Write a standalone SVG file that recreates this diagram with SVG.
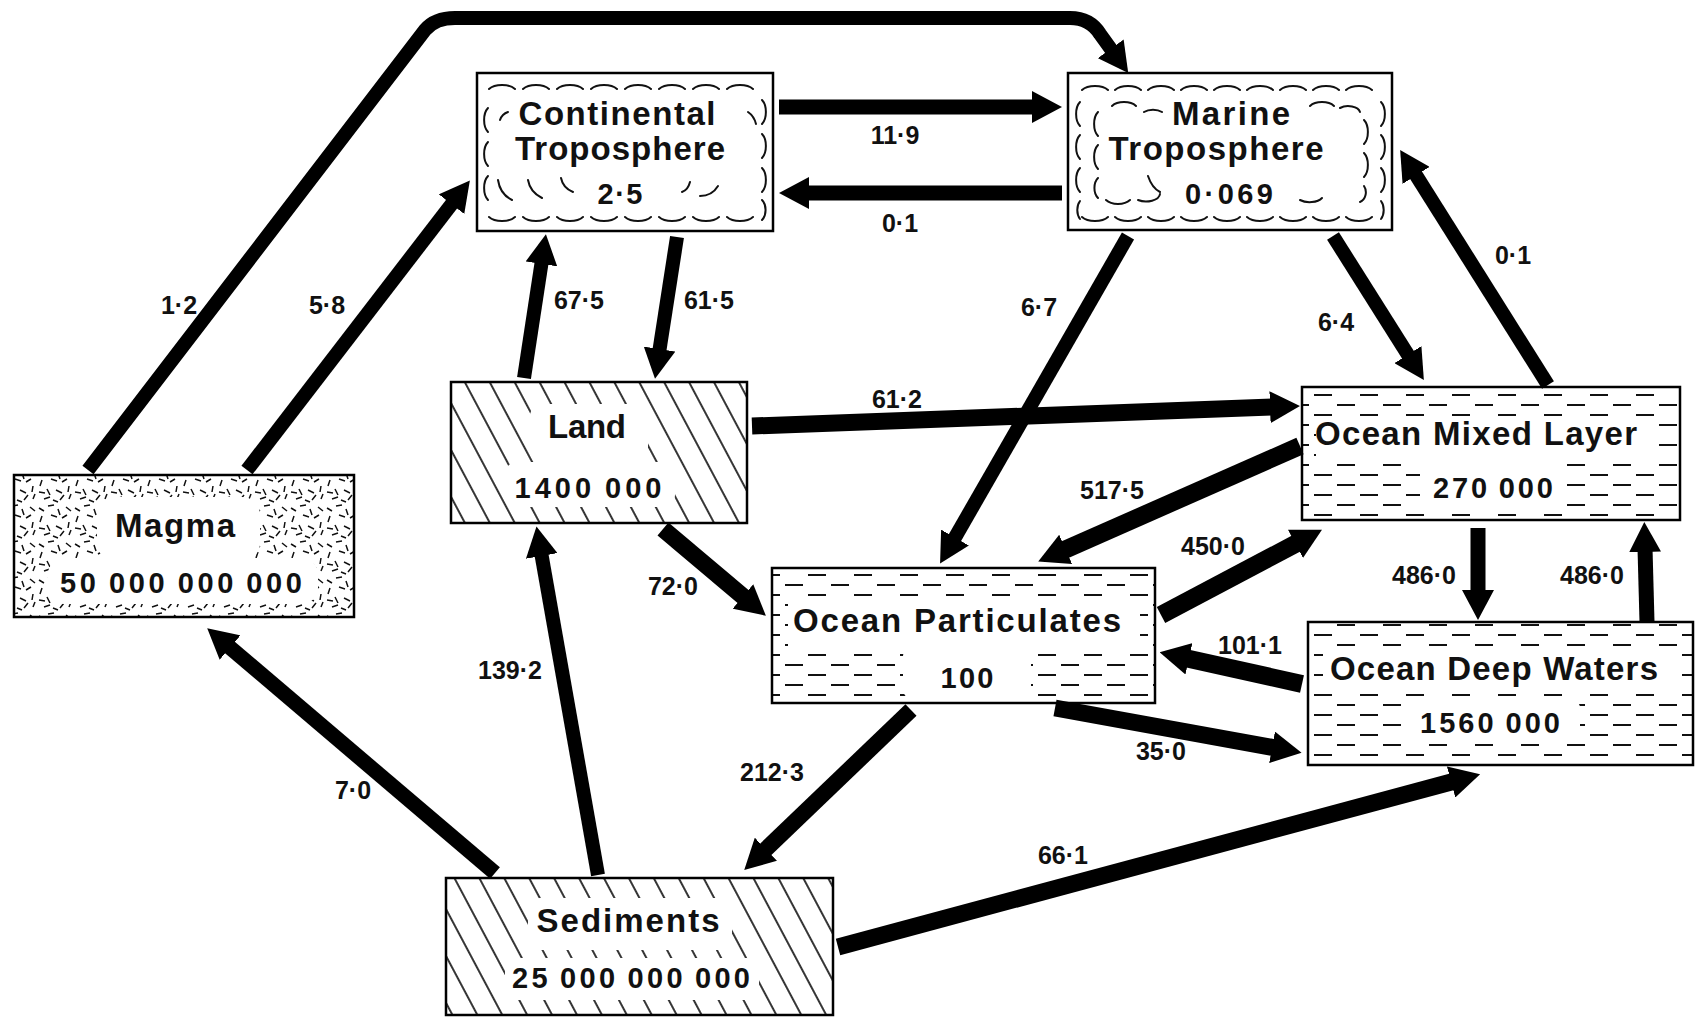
<svg xmlns="http://www.w3.org/2000/svg" width="1701" height="1017" viewBox="0 0 1701 1017">
<style>
.box{fill:#fff;stroke:#000;stroke-width:2.5}
.edge{stroke:#000;stroke-width:2.5;fill:none}
.t{font-family:"Liberation Sans",Arial,sans-serif;font-weight:bold;fill:#111;text-anchor:middle}
.ti{font-size:33px}
.nu{font-size:29px}
.lb{font-family:"Liberation Sans",Arial,sans-serif;font-weight:bold;font-size:25px;fill:#111;text-anchor:middle}
.cl{fill:none;stroke:#111;stroke-width:2;stroke-linecap:round}
.ar{fill:none;stroke:#000;stroke-linecap:butt;marker-end:url(#ah)}
.wh{fill:#fff}
</style>
<defs>
<marker id="ah" markerUnits="userSpaceOnUse" markerWidth="30" markerHeight="32" viewBox="0 0 30 32" refX="4" refY="16" orient="auto"><path d="M0,0 L30,16 L0,32 z" fill="#000"/></marker>
<pattern id="hatch" width="22" height="22" patternUnits="userSpaceOnUse" patternTransform="rotate(-28)"><line x1="11" y1="-1" x2="11" y2="23" stroke="#111" stroke-width="1.7"/></pattern>
<pattern id="dash" width="46" height="20" patternUnits="userSpaceOnUse"><path d="M3,5 h18 M26,15 h18" stroke="#111" stroke-width="2"/></pattern>
<pattern id="stip" width="36" height="36" patternUnits="userSpaceOnUse"><path d="M3,4 l5,3 M12,2 l6,-1 M22,5 l2,6 M30,3 l5,4 M6,12 l-2,6 M15,11 l6,2 M26,14 l5,-3 M33,18 l-1,6 M3,24 l6,1 M11,21 l3,6 M20,22 l6,3 M28,27 l-4,5 M8,31 l6,-2 M17,32 l5,2 M33,31 l2,-5" stroke="#111" stroke-width="1.5" fill="none"/></pattern>
</defs>
<rect width="1701" height="1017" fill="#fff"/>

<g id="magma">
<rect x="14" y="475" width="340" height="142" fill="url(#stip)"/>
<rect class="wh" x="97" y="497" width="163" height="64" rx="18"/>
<rect class="wh" x="48" y="558" width="270" height="46" rx="16"/>
<rect class="edge" x="14" y="475" width="340" height="142"/>
<text class="t ti" x="175" y="537" textLength="120" lengthAdjust="spacing">Magma</text>
<text class="t nu" x="181" y="593" textLength="242" lengthAdjust="spacing">50&#8201;000&#8201;000&#8201;000</text>
</g>

<g id="continental-troposphere">
<rect class="box" x="477" y="73" width="296" height="158"/>
<path class="cl" d="M489,89 a15,8 0 0 1 26,0 m8,0 a15,8 0 0 1 26,0 m8,0 a15,8 0 0 1 26,0 m8,0 a15,8 0 0 1 26,0 m8,0 a15,8 0 0 1 26,0 m8,0 a15,8 0 0 1 26,0 m8,0 a15,8 0 0 1 26,0 m8,0 a15,8 0 0 1 26,0"/>
<path class="cl" d="M489,217 a15,8 0 0 0 26,0 m8,0 a15,8 0 0 0 26,0 m8,0 a15,8 0 0 0 26,0 m8,0 a15,8 0 0 0 26,0 m8,0 a15,8 0 0 0 26,0 m8,0 a15,8 0 0 0 26,0 m8,0 a15,8 0 0 0 26,0 m8,0 a15,8 0 0 0 26,0"/>
<path class="cl" d="M488,108 a8,14 0 0 0 0,24 m0,10 a8,14 0 0 0 0,24 m0,10 a8,14 0 0 0 0,24"/>
<path class="cl" d="M762,100 a8,14 0 0 1 0,24 m0,10 a8,14 0 0 1 0,24 m0,10 a8,14 0 0 1 0,24 m0,8 a8,12 0 0 1 0,20"/>
<path class="cl" d="M498,180 q2,14 14,20 M528,180 q2,12 14,18 M561,178 q2,10 12,14 M690,182 q-2,8 -8,10 M718,186 q-6,10 -18,10 M748,112 q6,4 8,12 M508,112 q-6,2 -8,8"/>
<text class="t ti" x="617" y="125" textLength="197" lengthAdjust="spacing">Continental</text>
<text class="t ti" x="620" y="160" textLength="210" lengthAdjust="spacing">Troposphere</text>
<text class="t nu" x="620" y="204" textLength="45" lengthAdjust="spacing">2·5</text>
</g>

<g id="marine-troposphere">
<rect class="box" x="1068" y="73" width="324" height="157"/>
<path class="cl" d="M1082,90 a15,8 0 0 1 26,0 m7,0 a15,8 0 0 1 26,0 m7,0 a15,8 0 0 1 26,0 m7,0 a15,8 0 0 1 26,0 m7,0 a15,8 0 0 1 26,0 m7,0 a15,8 0 0 1 26,0 m7,0 a15,8 0 0 1 26,0 m7,0 a15,8 0 0 1 26,0 m7,0 a15,8 0 0 1 26,0"/>
<path class="cl" d="M1082,217 a15,8 0 0 0 26,0 m7,0 a15,8 0 0 0 26,0 m7,0 a15,8 0 0 0 26,0 m7,0 a15,8 0 0 0 26,0 m7,0 a15,8 0 0 0 26,0 m7,0 a15,8 0 0 0 26,0 m7,0 a15,8 0 0 0 26,0 m7,0 a15,8 0 0 0 26,0 m7,0 a15,8 0 0 0 26,0"/>
<path class="cl" d="M1080,102 a8,14 0 0 0 0,24 m0,9 a8,14 0 0 0 0,24 m0,9 a8,14 0 0 0 0,24 m0,9 a8,12 0 0 0 0,18"/>
<path class="cl" d="M1381,102 a8,14 0 0 1 0,24 m0,9 a8,14 0 0 1 0,24 m0,9 a8,14 0 0 1 0,24 m0,9 a8,12 0 0 1 0,18"/>
<path class="cl" d="M1098,112 a8,14 0 0 0 0,24 m0,9 a8,14 0 0 0 0,24 m0,9 a8,12 0 0 0 0,20 M1112,106 a14,8 0 0 1 24,0 M1144,112 a12,7 0 0 1 18,0 M1310,106 a14,8 0 0 1 24,0 M1340,108 a12,7 0 0 1 20,4 M1364,120 a8,14 0 0 1 0,24 m0,9 a8,14 0 0 1 0,24 m0,9 a8,10 0 0 1 -4,16 M1106,200 a14,8 0 0 0 24,0 m8,0 a14,8 0 0 0 22,-6 M1300,200 a14,8 0 0 0 22,-2 M1148,176 q4,12 12,16"/>
<text class="t ti" x="1231" y="125" textLength="118" lengthAdjust="spacing">Marine</text>
<text class="t ti" x="1216" y="160" textLength="215" lengthAdjust="spacing">Troposphere</text>
<text class="t nu" x="1229" y="204" textLength="88" lengthAdjust="spacing">0·069</text>
</g>

<g id="land">
<rect x="451" y="382" width="296" height="141" fill="url(#hatch)"/>
<rect class="wh" x="530" y="404" width="118" height="58" rx="12"/>
<rect class="wh" x="505" y="462" width="170" height="45" rx="12"/>
<rect class="edge" x="451" y="382" width="296" height="141"/>
<text class="t ti" x="587" y="438" textLength="78" lengthAdjust="spacing">Land</text>
<text class="t nu" x="588" y="498" textLength="147" lengthAdjust="spacing">1400&#8201;000</text>
</g>

<g id="sediments">
<rect x="446" y="878" width="387" height="137" fill="url(#hatch)"/>
<rect class="wh" x="528" y="898" width="204" height="52" rx="12"/>
<rect class="wh" x="505" y="958" width="254" height="42" rx="12"/>
<rect class="edge" x="446" y="878" width="387" height="137"/>
<text class="t ti" x="628" y="932" textLength="183" lengthAdjust="spacing">Sediments</text>
<text class="t nu" x="631" y="988" textLength="238" lengthAdjust="spacing">25&#8201;000&#8201;000&#8201;000</text>
</g>

<g id="ocean-mixed-layer">
<rect x="1302" y="387" width="378" height="133" fill="url(#dash)"/>
<rect class="wh" x="1316" y="419" width="340" height="44"/>
<rect class="wh" x="1420" y="463" width="146" height="46" rx="8"/>
<rect class="edge" x="1302" y="387" width="378" height="133"/>
<text class="t ti" x="1476" y="445" textLength="322" lengthAdjust="spacing">Ocean Mixed Layer</text>
<text class="t nu" x="1493" y="498" textLength="120" lengthAdjust="spacing">270&#8201;000</text>
</g>

<g id="ocean-particulates">
<rect x="772" y="568" width="383" height="135" fill="url(#dash)"/>
<rect class="wh" x="788" y="603" width="352" height="43"/>
<rect class="wh" x="903" y="648" width="128" height="50" rx="8"/>
<rect class="edge" x="772" y="568" width="383" height="135"/>
<text class="t ti" x="957" y="632" textLength="328" lengthAdjust="spacing">Ocean Particulates</text>
<text class="t nu" x="967" y="688" textLength="53" lengthAdjust="spacing">100</text>
</g>

<g id="ocean-deep-waters">
<rect x="1308" y="622" width="385" height="143" fill="url(#dash)"/>
<rect class="wh" x="1323" y="650" width="356" height="42"/>
<rect class="wh" x="1402" y="700" width="178" height="44" rx="8"/>
<rect class="edge" x="1308" y="622" width="385" height="143"/>
<text class="t ti" x="1494" y="680" textLength="328" lengthAdjust="spacing">Ocean Deep Waters</text>
<text class="t nu" x="1490" y="733" textLength="140" lengthAdjust="spacing">1560&#8201;000</text>
</g>

<g id="connectors">
<path class="ar" stroke-width="15" d="M779,107 L1036,107"/>
<path class="ar" stroke-width="15" d="M1062,193 L805,193"/>
<path class="ar" stroke-width="14" stroke-linejoin="round" d="M88,470 L425,30 Q435,18 455,18 L1070,18 Q1090,18 1100,34 L1113,52"/>
<path class="ar" stroke-width="14" d="M247,470 L454,201"/>
<path class="ar" stroke-width="14" d="M524,378 L542,260"/>
<path class="ar" stroke-width="14" d="M677,237 L659,353"/>
<path class="ar" stroke-width="14" d="M1128,236 L953,541"/>
<path class="ar" stroke-width="14" d="M1333,236 L1410,358"/>
<path class="ar" stroke-width="14" d="M1548,385 L1414,172"/>
<path class="ar" stroke-width="17" d="M752,426 L1274,407"/>
<path class="ar" stroke-width="18" d="M1300,446 L1062,551"/>
<path class="ar" stroke-width="18" d="M1161,615 L1299,542"/>
<path class="ar" stroke-width="17" d="M663,529 L746,599"/>
<path class="ar" stroke-width="15" d="M1478,528 L1478,594"/>
<path class="ar" stroke-width="15" d="M1647,622 L1645,548"/>
<path class="ar" stroke-width="18" d="M1302,684 L1185,658"/>
<path class="ar" stroke-width="17" d="M1055,708 L1276,748"/>
<path class="ar" stroke-width="16" d="M911,710 L763,852"/>
<path class="ar" stroke-width="14" d="M598,875 L541,552"/>
<path class="ar" stroke-width="15" d="M495,873 L227,645"/>
<path class="ar" stroke-width="17" d="M838,947 L1455,781"/>
<text class="lb" x="895" y="144">11·9</text>
<text class="lb" x="900" y="232">0·1</text>
<text class="lb" x="179" y="314">1·2</text>
<text class="lb" x="327" y="314">5·8</text>
<text class="lb" x="579" y="309">67·5</text>
<text class="lb" x="709" y="309">61·5</text>
<text class="lb" x="1039" y="316">6·7</text>
<text class="lb" x="1336" y="331">6·4</text>
<text class="lb" x="1513" y="264">0·1</text>
<text class="lb" x="897" y="408">61·2</text>
<text class="lb" x="1112" y="499">517·5</text>
<text class="lb" x="1213" y="555">450·0</text>
<text class="lb" x="673" y="595">72·0</text>
<text class="lb" x="1424" y="584">486·0</text>
<text class="lb" x="1592" y="584">486·0</text>
<text class="lb" x="1250" y="654">101·1</text>
<text class="lb" x="1161" y="760">35·0</text>
<text class="lb" x="772" y="781">212·3</text>
<text class="lb" x="510" y="679">139·2</text>
<text class="lb" x="353" y="799">7·0</text>
<text class="lb" x="1063" y="864">66·1</text>
</g>
</svg>
